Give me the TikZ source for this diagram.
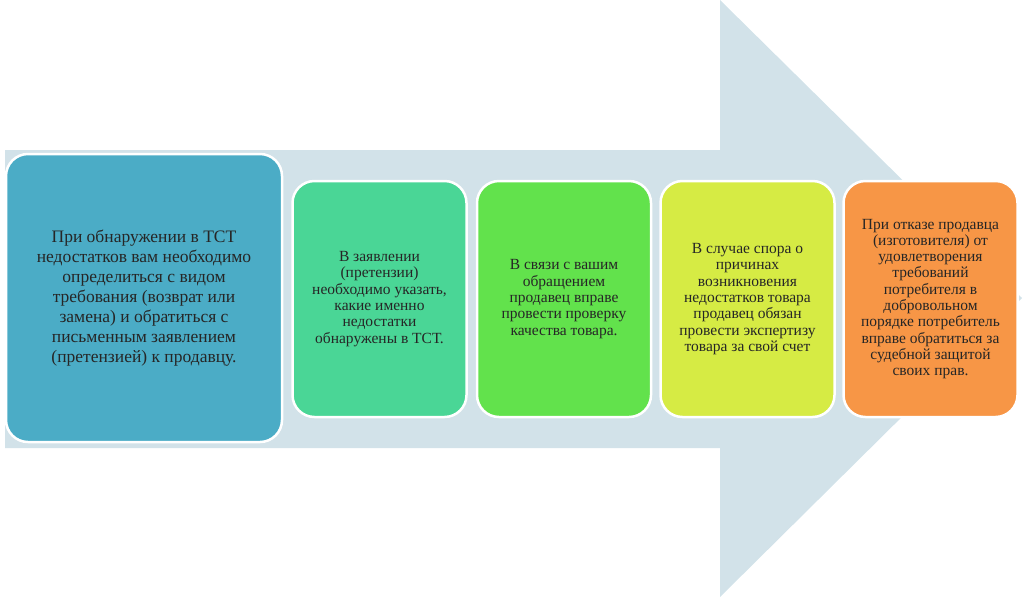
\documentclass[tikz,border=0pt]{standalone}
\usepackage{fontspec}
\setmainfont{Liberation Serif}
\begin{document}
\begin{tikzpicture}[x=1pt,y=-1pt]
\definecolor{arr}{RGB}{210,226,233}
\definecolor{c1}{RGB}{75,172,198}
\definecolor{c2}{RGB}{74,214,150}
\definecolor{c3}{RGB}{98,226,76}
\definecolor{c4}{RGB}{214,235,68}
\definecolor{c5}{RGB}{247,150,70}
\tikzset{card/.style={draw=white,line width=2.5pt,rounded corners=22pt,inner sep=0pt,align=center,text=black!85,font=\fontsize{15.5}{16.3}\selectfont}}
\useasboundingbox (0,0) rectangle (1024,598);
\fill[arr] (5,150) -- (720,150) -- (720,0) -- (1022,298) -- (720,597) -- (720,448) -- (5,448) -- cycle;
\node[card,fill=c1,minimum width=276pt,minimum height=288pt,font=\fontsize{17.5}{20}\selectfont] (b1) at (144,298) {При обнаружении в ТСТ\\недостатков вам необходимо\\определиться с видом\\требования (возврат или\\замена) и обратиться с\\письменным заявлением\\(претензией) к продавцу.};
\node[card,fill=c2,minimum width=174pt,minimum height=236pt] (b2) at (379.5,299) {В заявлении\\(претензии)\\необходимо указать,\\какие именно\\недостатки\\обнаружены в ТСТ.};
\node[card,fill=c3,minimum width=174pt,minimum height=236pt] (b3) at (564,299) {В связи с вашим\\обращением\\продавец вправе\\провести проверку\\качества товара.};
\node[card,fill=c4,minimum width=174pt,minimum height=236pt] (b4) at (747.5,299) {В случае спора о\\причинах\\возникновения\\недостатков товара\\продавец обязан\\провести экспертизу\\товара за свой счет};
\node[card,fill=c5,minimum width=174pt,minimum height=236pt] (b5) at (930.5,299) {При отказе продавца\\(изготовителя) от\\удовлетворения\\требований\\потребителя в\\добровольном\\порядке потребитель\\вправе обратиться за\\судебной защитой\\своих прав.};
\end{tikzpicture}
\end{document}
